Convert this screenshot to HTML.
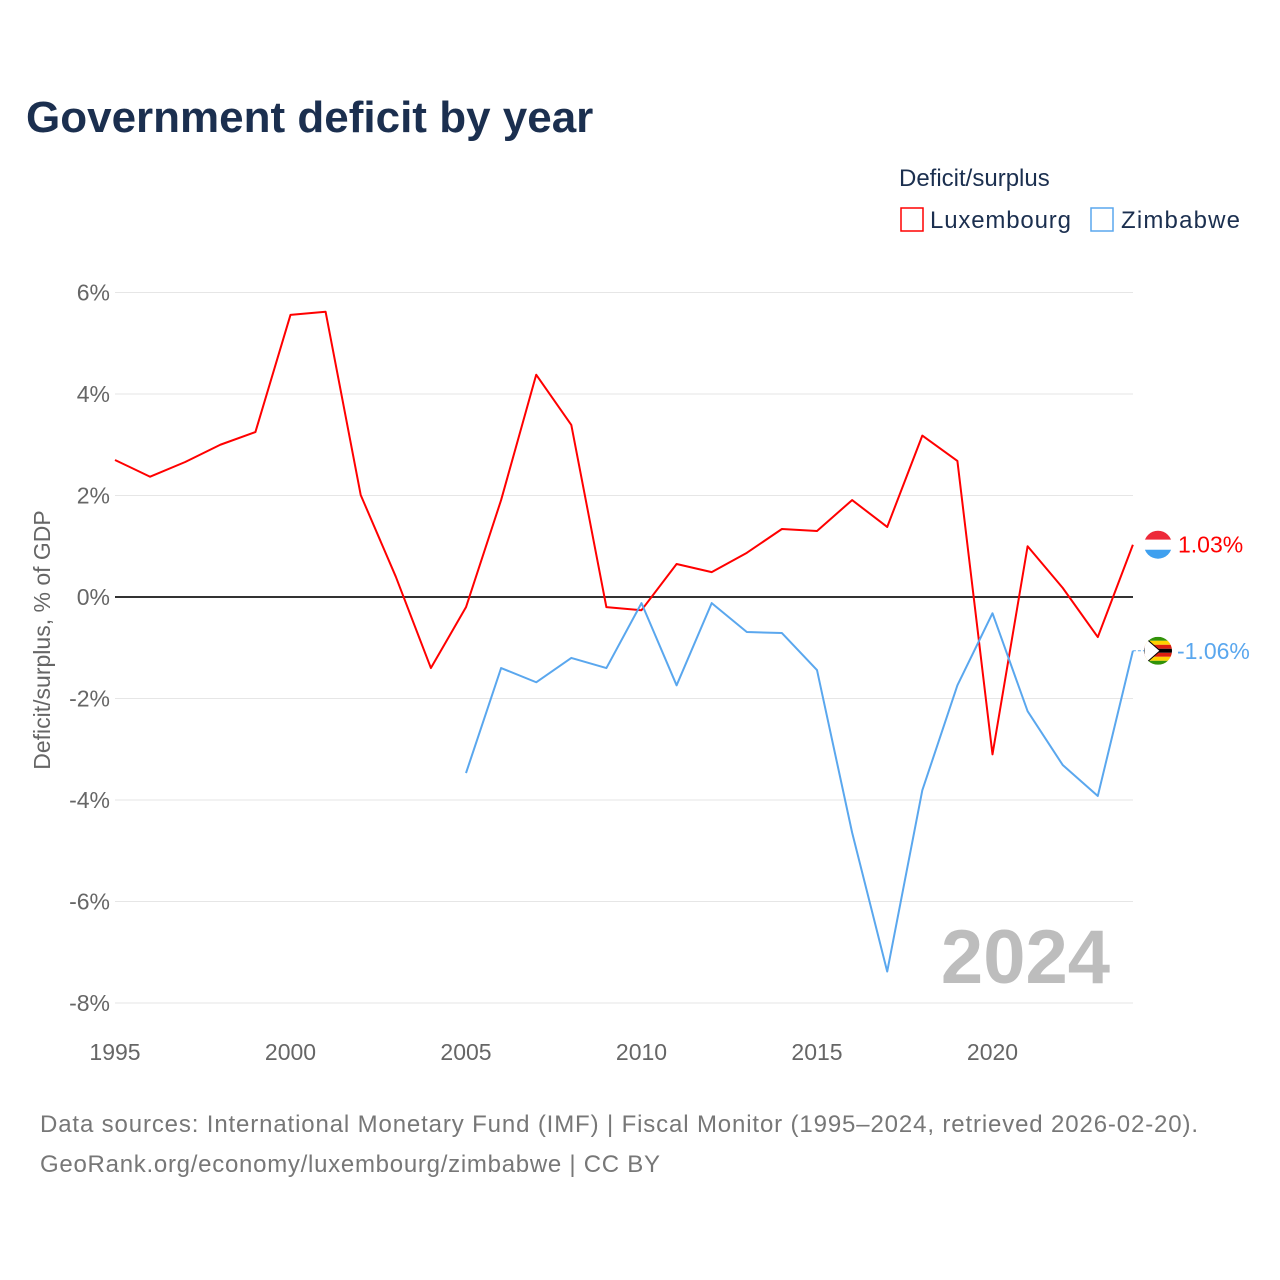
<!DOCTYPE html>
<html><head><meta charset="utf-8"><style>
body{margin:0;background:#fff;font-family:"Liberation Sans",sans-serif;}
#wrap{position:relative;width:1280px;height:1280px;overflow:hidden;}
</style></head><body>
<div id="wrap">
<svg id="chart" width="1280" height="1280" font-family="Liberation Sans, sans-serif">
<defs><clipPath id="c1"><circle cx="1158" cy="545" r="14"/></clipPath><clipPath id="c2"><circle cx="1158" cy="651" r="14"/></clipPath></defs>
<text x="26" y="132" font-size="44" font-weight="bold" fill="#1b2f4f">Government deficit by year</text>
<text x="899" y="186" font-size="24" fill="#1b2f4f">Deficit/surplus</text>
<g><rect x="901" y="208" width="22" height="23" fill="none" stroke="#ff0000" stroke-width="1.5"/><text x="930" y="228" font-size="24" fill="#1b2f4f" textLength="141">Luxembourg</text></g>
<g><rect x="1091" y="208" width="22" height="23" fill="none" stroke="#5aa7ee" stroke-width="1.5"/><text x="1121" y="228" font-size="24" fill="#1b2f4f" textLength="119">Zimbabwe</text></g>
<text transform="translate(50,640) rotate(-90)" text-anchor="middle" font-size="23" fill="#666">Deficit/surplus, % of GDP</text>
<g id="grid"></g><g id="xt"></g>
<text x="1110" y="983" text-anchor="end" font-size="76" font-weight="bold" fill="#bdbdbd">2024</text>
<g id="series"></g>
<text x="40" y="1132" font-size="24" fill="#777" textLength="1158">Data sources: International Monetary Fund (IMF) | Fiscal Monitor (1995–2024, retrieved 2026-02-20).</text>
<text x="40" y="1172" font-size="24" fill="#777" textLength="620">GeoRank.org/economy/luxembourg/zimbabwe | CC BY</text>
</svg></div>
<script>
const luxYears=[1995,1996,1997,1998,1999,2000,2001,2002,2003,2004,2005,2006,2007,2008,2009,2010,2011,2012,2013,2014,2015,2016,2017,2018,2019,2020,2021,2022,2023,2024];
const luxValues=[2.70,2.37,2.66,3.0,3.25,5.56,5.62,2.01,0.40,-1.40,-0.2,1.91,4.38,3.39,-0.2,-0.26,0.65,0.49,0.87,1.34,1.30,1.91,1.38,3.18,2.68,-3.1,1.0,0.18,-0.79,1.03];
const zimYears=[2005,2006,2007,2008,2009,2010,2011,2012,2013,2014,2015,2016,2017,2018,2019,2020,2021,2022,2023,2024];
const zimValues=[-3.47,-1.40,-1.68,-1.20,-1.40,-0.12,-1.74,-0.12,-0.69,-0.71,-1.44,-4.64,-7.38,-3.81,-1.74,-0.32,-2.25,-3.31,-3.92,-1.06];
const yTicks=[6,4,2,0,-2,-4,-6,-8];
const xTicks=[1995,2000,2005,2010,2015,2020];
const NS='http://www.w3.org/2000/svg';
const xs=y=>115+(y-1995)*35.1;
const ys=v=>597-v*50.75;
function mk(t,a,p){const e=document.createElementNS(NS,t);for(const k in a)e.setAttribute(k,a[k]);p.appendChild(e);return e;}
const grid=document.getElementById('grid');
yTicks.forEach(v=>{
 const l=mk('line',{x1:115,x2:1133,y1:ys(v),y2:ys(v),stroke:v===0?'#333':'#e6e6e6','stroke-width':v===0?2:1},grid);
 
 
 const t=mk('text',{x:110,y:ys(v)+8,'text-anchor':'end','font-size':23,fill:'#666'},grid);
 t.textContent=v+'%';
 
 
});
const xt=document.getElementById('xt');
xTicks.forEach(y=>{
 const t=mk('text',{x:xs(y),y:1060,'text-anchor':'middle','font-size':23,fill:'#666'},xt);
 t.textContent=y;
 
 
});
const s=document.getElementById('series');
function line(yrs,vals,col,name){
 const p=mk('polyline',{points:yrs.map((y,i)=>xs(y)+','+ys(vals[i])).join(' '),fill:'none',stroke:col,'stroke-width':2,'stroke-linejoin':'round'},s);
 
 
}
line(luxYears,luxValues,'#ff0000','luxembourg-line');
line(zimYears,zimValues,'#5aa7ee','zimbabwe-line');
const lv=luxValues[luxValues.length-1], zv=zimValues[zimValues.length-1];
const cy1=ys(lv);
document.getElementById('c1').firstChild.setAttribute('cy',cy1);
const fl=mk('g',{'clip-path':'url(#c1)'},s);


mk('rect',{x:1144,y:cy1-15,width:28,height:10,fill:'#ed2939'},fl);
mk('rect',{x:1144,y:cy1-5,width:28,height:10,fill:'#fff'},fl);
mk('rect',{x:1144,y:cy1+5,width:28,height:10,fill:'#3fa0ef'},fl);
const t1=mk('text',{x:1178,y:cy1+8,'font-size':23,fill:'#ff0000'},s);
t1.textContent=lv.toFixed(2)+'%';


const cy2=ys(zv);
document.getElementById('c2').firstChild.setAttribute('cy',cy2);
mk('line',{x1:xs(2024),x2:1144,y1:cy2,y2:cy2,stroke:'#5aa7ee','stroke-width':1,'stroke-dasharray':'3,2'},s);
const fz=mk('g',{'clip-path':'url(#c2)'},s);


['#319208','#ffd200','#de2010','#000','#de2010','#ffd200','#319208'].forEach((c,i)=>mk('rect',{x:1144,y:cy2-14+i*4,width:28,height:4,fill:c},fz));
mk('polygon',{points:`1144,${cy2-14} 1160,${cy2} 1144,${cy2+14}`,fill:'#fff',stroke:'#000','stroke-width':1},fz);
const t2=mk('text',{x:1177,y:cy2+8,'font-size':23,fill:'#5aa7ee'},s);
t2.textContent=zv.toFixed(2)+'%';


</script>
</body></html>
